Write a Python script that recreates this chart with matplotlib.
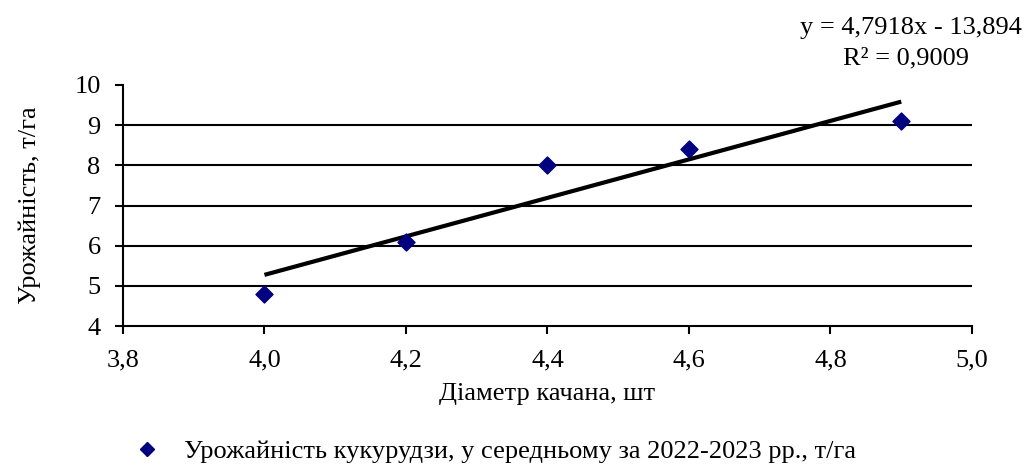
import matplotlib
matplotlib.use("Agg")
import matplotlib.pyplot as plt
from matplotlib.lines import Line2D
import numpy as np

# Ear diameter vs. maize yield
diameter = [4.0, 4.2, 4.4, 4.6, 4.9]
yield_t_ha = [4.8, 6.1, 8.0, 8.4, 9.1]

slope = 4.7918
intercept = -13.894
r_squared = 0.9009

x_ticks = [3.8, 4.0, 4.2, 4.4, 4.6, 4.8, 5.0]
y_ticks = [4, 5, 6, 7, 8, 9, 10]

plt.rcParams['font.family'] = ['Liberation Serif', 'DejaVu Serif']
FS = 19

fig = plt.figure(figsize=(10.29, 4.66), dpi=100)
ax = fig.add_axes([0.1195, 0.3004, 0.8251, 0.5172])

ax.set_xlim(3.8, 5.0)
ax.set_ylim(4, 10)

for yv in y_ticks[1:-1]:
    ax.axhline(yv, color='black', lw=1.5, zorder=1)

# Linear trend over the observed diameter range
xt = np.array([min(diameter), max(diameter)])
ax.plot(xt, slope * xt + intercept, color='black', lw=3.0, zorder=2,
        solid_capstyle='butt')

ax.scatter(diameter, yield_t_ha, marker='D', s=75, color='#000080',
           edgecolors='#000080', zorder=3)

ax.set_xticks(x_ticks)
ax.set_xticklabels([f"{v:.1f}".replace('.', ',') for v in x_ticks])
ax.set_yticks(y_ticks)
ax.set_yticklabels([str(v) for v in y_ticks])

for s in ['top', 'right']:
    ax.spines[s].set_visible(False)
for s in ['left', 'bottom']:
    ax.spines[s].set_linewidth(1.5)
    ax.spines[s].set_color('black')

ax.tick_params(axis='both', direction='out', length=6, width=1.5,
               labelsize=FS, colors='black')
ax.tick_params(axis='y', pad=10)
ax.tick_params(axis='x', pad=11)

ax.set_xlabel('Діаметр качана, шт', fontsize=FS, labelpad=8)
ax.set_ylabel('Урожайність, т/га', fontsize=FS, labelpad=24)

fig.text(0.885, 0.940,
         f"y = {str(slope).replace('.', ',')}x - {str(-intercept).replace('.', ',')}",
         ha='center', va='center', fontsize=FS)
fig.text(0.880, 0.875, f"R² = {str(r_squared).replace('.', ',')}",
         ha='center', va='center', fontsize=FS)

handle = Line2D([], [], marker='D', linestyle='none', color='#000080',
                markersize=7.5)
fig.legend([handle], ['Урожайність кукурудзи, у середньому за 2022-2023 рр., т/га'],
           loc='center', bbox_to_anchor=(0.48, 0.032), frameon=False,
           fontsize=FS, handletextpad=0.8, handlelength=1.2)

fig.savefig('out.png', dpi=100)
